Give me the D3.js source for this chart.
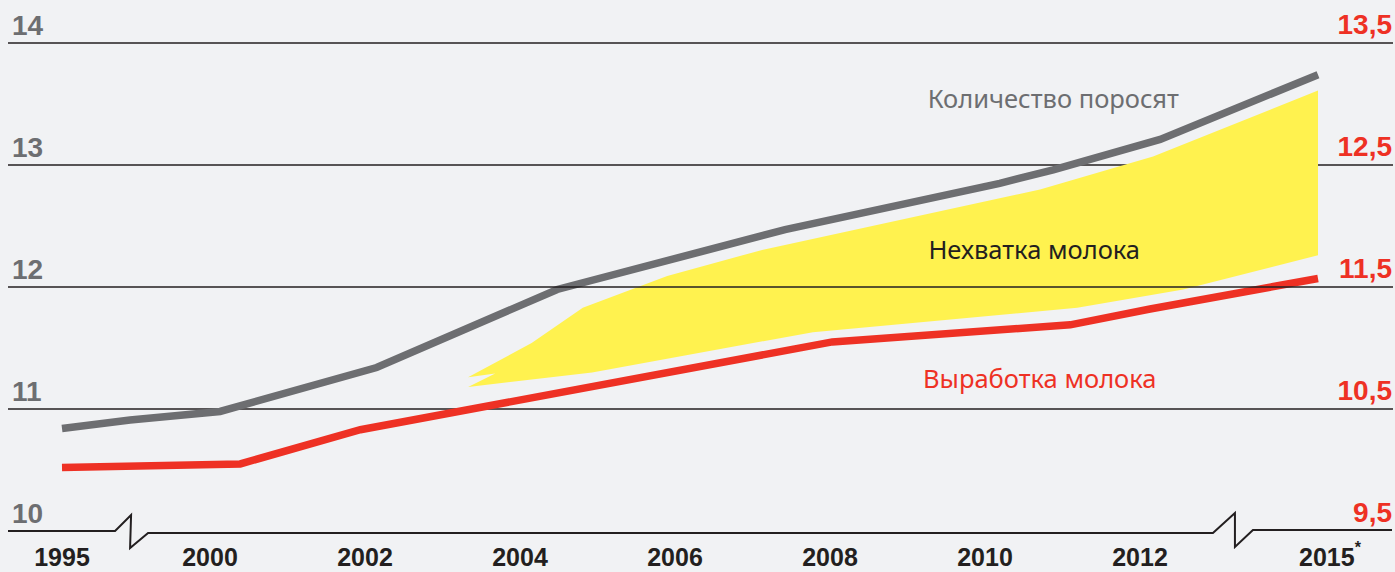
<!DOCTYPE html>
<html>
<head>
<meta charset="utf-8">
<script src="https://cdn.jsdelivr.net/npm/d3@7"></script>
<style>
    html, body { margin: 0; padding: 0; background: #f1f2f4; }
    svg { display: block; }
</style>
</head>
<body>
<svg id="chart" width="1395" height="572"></svg>
<script>
// Year ticks on the bottom axis (1995 and 2015 sit behind axis breaks)
const yearTicks = [1995, 2000, 2002, 2004, 2006, 2008, 2010, 2012, 2015];
const leftTicks = [10, 11, 12, 13, 14];
const rightTicks = [9.5, 10.5, 11.5, 12.5, 13.5];

// Количество поросят (left axis)
const pigletYears  = [1995, 1997.3, 2000.13, 2002.15, 2004.48, 2007.42, 2010.19, 2010.88, 2012.34, 2015];
const pigletValues = [10.84, 10.91, 10.98, 11.34, 11.98, 12.47, 12.85, 12.96, 13.21, 13.74];

// Выработка молока (right axis)
const milkYears  = [1995, 2000.39, 2001.94, 2008.03, 2011.10, 2012.17, 2015];
const milkValues = [10.02, 10.05, 10.33, 11.05, 11.19, 11.32, 11.57];

// Нехватка молока - yellow band, read on the left axis
const shortageTopYears     = [2003.33, 2004.15, 2004.81, 2005.90, 2007.10, 2010.71, 2012.22, 2015];
const shortageTopValues    = [11.26, 11.54, 11.83, 12.09, 12.30, 12.80, 13.07, 13.61];
const shortageBottomYears  = [2003.33, 2004.93, 2007.78, 2011.19, 2012.73, 2015];
const shortageBottomValues = [11.18, 11.30, 11.63, 11.83, 11.98, 12.26];
const shortageNotch = [2003.68, 11.29];

// axis break positions (years)
const axisBreaks = [1997.3, 2013.6];

const GRAY = "#6d6e71";
const RED = "#ee3124";
const YELLOW = "#fff24f";
const INK = "#231f20";

const svg = d3.select("#chart");

// scales: piecewise x because the axis is broken at both ends
const x = d3.scaleLinear()
    .domain([1995, 2000, 2012, 2015])
    .range([62, 210, 1140, 1318]);
const yLeft = d3.scaleLinear().domain([10, 14]).range([531, 43]);
const yRight = d3.scaleLinear().domain([9.5, 13.5]).range([531, 43]);

const fmtComma = d => String(d).replace(".", ",");
const gridLeft = 8, gridRight = 1393;

// gridlines (12 is drawn later, on top of the band and lines)
const gridGroup = svg.append("g");
gridGroup.selectAll("line")
    .data(leftTicks.filter(d => d !== 10 && d !== 12))
    .enter()
    .append("line")
    .attr("x1", gridLeft)
    .attr("x2", gridRight)
    .attr("y1", d => yLeft(d))
    .attr("y2", d => yLeft(d))
    .attr("stroke", INK)
    .attr("stroke-width", 1.5);

// bottom axis with two break marks
const y0 = yLeft(10);
const b1 = x(axisBreaks[0]), b2 = x(axisBreaks[1]);
const axisPath = d3.path();
axisPath.moveTo(gridLeft, y0);
axisPath.lineTo(b1 - 15, y0);
axisPath.lineTo(b1 + 1, y0 - 16);
axisPath.lineTo(b1, y0 + 17);
axisPath.lineTo(b1 + 18, y0 + 2);
axisPath.lineTo(b2 - 22, y0 + 2);
axisPath.lineTo(b2, y0 - 18);
axisPath.lineTo(b2, y0 + 16);
axisPath.lineTo(b2 + 18, y0 - 1);
axisPath.lineTo(gridRight - 1, y0 - 1);
svg.append("path")
    .attr("d", axisPath.toString())
    .attr("fill", "none")
    .attr("stroke", INK)
    .attr("stroke-width", 2)
    .attr("stroke-linejoin", "miter");

// yellow band
const bandPoints = [];
shortageTopYears.forEach((yr, i) => bandPoints.push([yr, shortageTopValues[i]]));
for (let i = shortageBottomYears.length - 1; i >= 0; i--) {
    bandPoints.push([shortageBottomYears[i], shortageBottomValues[i]]);
}
bandPoints.push(shortageNotch);

svg.append("path")
    .datum(bandPoints)
    .attr("fill", YELLOW)
    .attr("d", d3.line()
        .x(d => x(d[0]))
        .y(d => yLeft(d[1]))
        .curve(d3.curveLinearClosed));

// lines
const pigletLine = d3.line()
    .x((d, i) => x(pigletYears[i]))
    .y(d => yLeft(d));
svg.append("path")
    .datum(pigletValues)
    .attr("d", pigletLine)
    .attr("fill", "none")
    .attr("stroke", GRAY)
    .attr("stroke-width", 7.5);

const milkLine = d3.line()
    .x((d, i) => x(milkYears[i]))
    .y(d => yRight(d));
svg.append("path")
    .datum(milkValues)
    .attr("d", milkLine)
    .attr("fill", "none")
    .attr("stroke", RED)
    .attr("stroke-width", 7.5);

// gridline 12 sits over everything in the original
svg.append("line")
    .attr("x1", gridLeft)
    .attr("x2", gridRight)
    .attr("y1", yLeft(12))
    .attr("y2", yLeft(12))
    .attr("stroke", INK)
    .attr("stroke-width", 1.5);

// axis labels
const numFont = "'Liberation Sans', Arial, sans-serif";
svg.append("g").selectAll("text")
    .data(leftTicks)
    .enter()
    .append("text")
    .attr("x", 12)
    .attr("y", d => yLeft(d) - 8)
    .attr("font-family", numFont)
    .attr("font-weight", "bold")
    .attr("font-size", "28px")
    .attr("fill", GRAY)
    .text(d => d);

svg.append("g").selectAll("text")
    .data(rightTicks)
    .enter()
    .append("text")
    .attr("x", 1392)
    .attr("y", d => yRight(d) - 9)
    .attr("text-anchor", "end")
    .attr("font-family", numFont)
    .attr("font-weight", "bold")
    .attr("font-size", "28px")
    .attr("fill", RED)
    .text(fmtComma);

const yearLabels = svg.append("g").selectAll("text")
    .data(yearTicks)
    .enter()
    .append("text")
    .attr("x", d => d === 2015 ? x(d) - 19 : x(d))
    .attr("y", 566)
    .attr("text-anchor", d => d === 2015 ? "start" : "middle")
    .attr("font-family", numFont)
    .attr("font-weight", "bold")
    .attr("font-size", "25px")
    .attr("fill", INK)
    .text(d => d);
yearLabels.filter(d => d === 2015)
    .append("tspan")
    .attr("dy", -13)
    .attr("font-size", "16px")
    .text("*");

// series captions
const capFont = "'Noto Sans', 'Open Sans', sans-serif";
const captions = [
    { text: "Количество поросят", year: 2009.26, value: 13.47, color: GRAY },
    { text: "Нехватка молока", year: 2009.27, value: 12.23, color: INK },
    { text: "Выработка молока", year: 2009.2, value: 11.17, color: RED }
];
svg.append("g").selectAll("text")
    .data(captions)
    .enter()
    .append("text")
    .attr("x", d => x(d.year))
    .attr("y", d => yLeft(d.value))
    .attr("font-family", capFont)
    .attr("font-size", "25.5px")
    .attr("fill", d => d.color)
    .text(d => d.text);
</script>
</body>
</html>
